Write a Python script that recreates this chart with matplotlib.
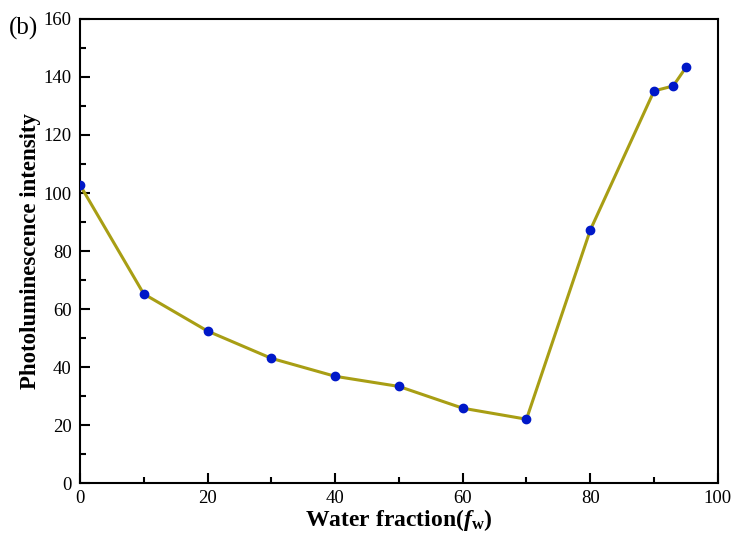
import numpy as np
import matplotlib
matplotlib.use("Agg")
import matplotlib.pyplot as plt
from matplotlib.ticker import MultipleLocator

water_fraction = [0, 10, 20, 30, 40, 50, 60, 70, 80, 90, 93, 95]
pl_intensity = [102.8, 65.2, 52.4, 43.0, 36.8, 33.3, 25.8, 22.0, 87.2, 135.2, 136.9, 143.3]

plt.rcParams['font.family'] = ['Liberation Serif', 'DejaVu Serif']
plt.rcParams['mathtext.fontset'] = 'custom'
plt.rcParams['mathtext.rm'] = 'Liberation Serif'
plt.rcParams['mathtext.it'] = 'Liberation Serif:italic'
plt.rcParams['mathtext.bf'] = 'Liberation Serif:bold'
plt.rcParams['mathtext.bfit'] = 'Liberation Serif:bold:italic'

fig = plt.figure(figsize=(7.37, 5.38), dpi=100)
ax = fig.add_axes([0.1085, 0.1022, 0.8655, 0.8625])

ax.plot(water_fraction, pl_intensity, color='#a89e14', lw=2.2, zorder=2)
ax.plot(water_fraction, pl_intensity, 'o', color='#0018c8', ms=6, zorder=3)

ax.set_xlim(0, 100)
ax.set_ylim(0, 160)
ax.xaxis.set_major_locator(MultipleLocator(20))
ax.xaxis.set_minor_locator(MultipleLocator(10))
ax.yaxis.set_major_locator(MultipleLocator(20))
ax.yaxis.set_minor_locator(MultipleLocator(10))
ax.tick_params(which='both', direction='in', top=False, right=False, labelsize=13.5, width=1.5)
ax.tick_params(which='major', length=7)
ax.tick_params(which='minor', length=4)
ax.tick_params(axis='y', pad=6)
ax.tick_params(axis='x', pad=5)
for s in ax.spines.values():
    s.set_linewidth(1.5)

ax.set_xlabel(r'Water fraction($\mathbfit{f}_{\mathbf{w}}$)', fontsize=17, fontweight='bold', labelpad=0)
ax.set_ylabel('Photoluminescence intensity', fontsize=16.5, fontweight='bold', labelpad=2)
fig.text(0.012, 0.936, '(b)', fontsize=18)

fig.savefig('out.png', dpi=100)
